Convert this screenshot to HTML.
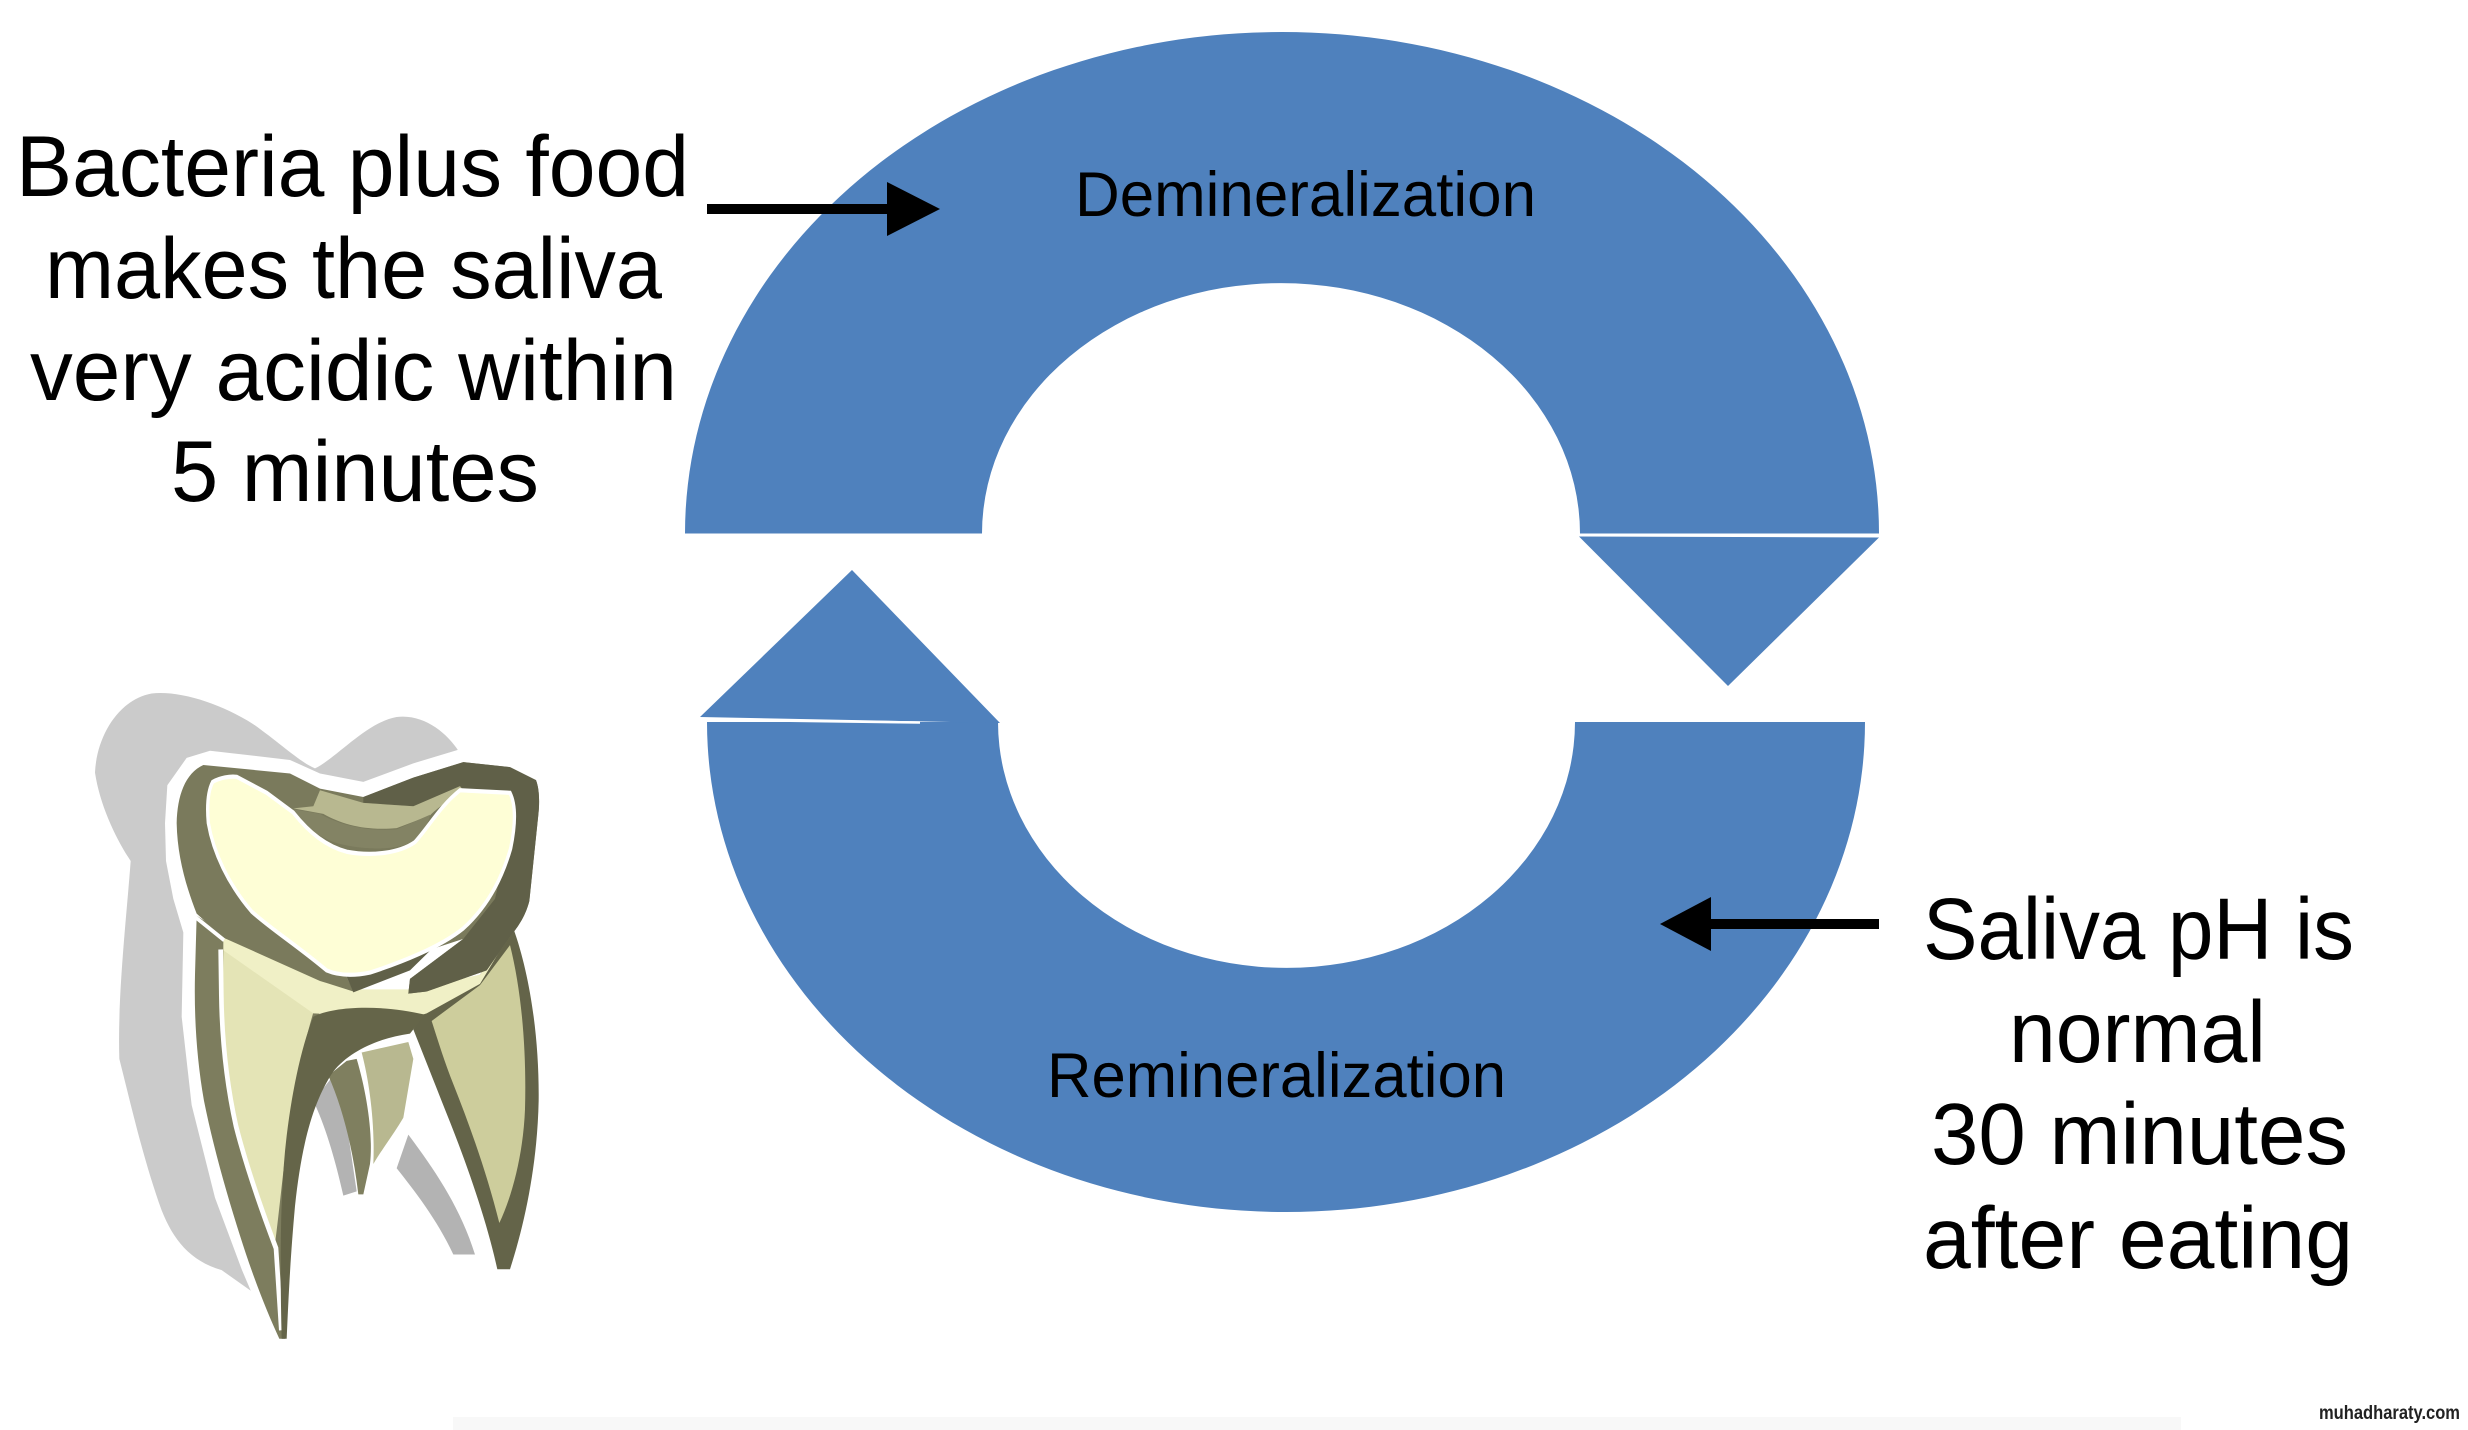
<!DOCTYPE html>
<html><head><meta charset="utf-8">
<style>html,body{margin:0;padding:0;background:#fff;}svg{display:block}</style>
</head>
<body>
<svg width="2468" height="1430" viewBox="0 0 2468 1430" xmlns="http://www.w3.org/2000/svg">
<rect width="2468" height="1430" fill="#fff"/>
<rect x="453" y="1417" width="1728" height="13" fill="#f8f8f8"/>

<!-- cycle ring -->
<path d="M685,533.5 A597,501.5 0 0 1 1879,533.5 L1580,533.5 A299,250.5 0 0 0 982,533.5 Z" fill="#4F81BD"/>
<polygon points="1579,536.5 1879,537.5 1728,686" fill="#4F81BD"/>
<path d="M707,722 A579,490 0 0 0 1865,722 L1575,722 A288.5,246 0 0 1 998,722 Z" fill="#4F81BD"/>
<polygon points="700,717 1000,723 852,570" fill="#4F81BD"/>
<line x1="700" y1="719.5" x2="920" y2="722.5" stroke="#fff" stroke-width="2.5"/>

<!-- arrows -->
<rect x="707" y="204" width="183" height="10" fill="#000"/>
<polygon points="887,182 887,236 940,209" fill="#000"/>
<rect x="1708" y="919" width="171" height="10" fill="#000"/>
<polygon points="1711,897 1711,951 1660,924" fill="#000"/>

<!-- text -->
<g font-family="'Liberation Sans', Arial, sans-serif" fill="#000">
<text x="16" y="196" font-size="86" textLength="673" lengthAdjust="spacingAndGlyphs">Bacteria plus food</text>
<text x="45" y="298" font-size="86" textLength="617" lengthAdjust="spacingAndGlyphs">makes the saliva</text>
<text x="30" y="400" font-size="86" textLength="647" lengthAdjust="spacingAndGlyphs">very acidic within</text>
<text x="171" y="501" font-size="86" textLength="368" lengthAdjust="spacingAndGlyphs">5 minutes</text>

<text x="1923" y="959" font-size="87" textLength="431" lengthAdjust="spacingAndGlyphs">Saliva pH is</text>
<text x="2009" y="1062" font-size="87" textLength="257" lengthAdjust="spacingAndGlyphs">normal</text>
<text x="1931" y="1164" font-size="87" textLength="417" lengthAdjust="spacingAndGlyphs">30 minutes</text>
<text x="1923" y="1268" font-size="87" textLength="430" lengthAdjust="spacingAndGlyphs">after eating</text>

<text x="1075" y="216" font-size="63" textLength="461" lengthAdjust="spacingAndGlyphs">Demineralization</text>
<text x="1047" y="1097" font-size="63" textLength="459" lengthAdjust="spacingAndGlyphs">Remineralization</text>

<text x="2319" y="1419" font-size="19" font-weight="bold" fill="#222" textLength="141" lengthAdjust="spacingAndGlyphs">muhadharaty.com</text>
</g>

<!-- tooth -->
<g transform="translate(80,680) scale(0.33333,0.42092)">
  <!-- light shadow -->
  <path d="M215,32 C300,25 420,55 520,105 C600,150 660,195 705,210 C770,185 860,100 950,88 C1030,80 1100,125 1135,168 L1135,700 L600,1500 L425,1402 C330,1380 280,1330 245,1260 C190,1140 150,1000 118,900 C112,750 140,560 152,430 C110,380 60,300 45,220 C50,130 120,45 215,32 Z" fill="#CBCBCB"/>
  <!-- white silhouette -->
  <path d="M255,340 L262,250 L320,185 L390,168 L630,190 L720,222 L850,242 L1000,198 L1150,162 L1440,162 L1440,1568 L575,1568 L485,1400 L405,1230 L335,1010 L305,800 L310,600 L280,520 L258,430 Z" fill="#fff"/>
  <!-- darker shadow pieces between roots -->
  <path d="M700,1000 L755,945 L790,1000 L830,1215 L790,1225 C760,1120 730,1050 700,1000 Z" fill="#B3B3B3"/>
  <path d="M950,1160 L985,1080 C1060,1160 1140,1250 1185,1365 L1120,1365 C1070,1280 1000,1210 950,1160 Z" fill="#B3B3B3"/>

  <!-- middle root -->
  <path d="M745,940 L800,905 L830,900 C860,980 880,1080 870,1150 L850,1222 L835,1222 C820,1120 790,1020 745,940 Z" fill="#7F7F5F"/>
  <path d="M845,885 L985,860 L1000,900 L970,1040 C940,1080 910,1110 880,1150 C885,1060 870,960 845,885 Z" fill="#B8B890"/>

  <!-- right root -->
  <path d="M1000,830 L1040,780 L1200,700 L1300,590 C1350,700 1378,850 1376,1000 C1372,1150 1335,1290 1290,1400 L1252,1400 C1225,1300 1170,1170 1110,1050 C1070,970 1030,890 1000,830 Z" fill="#646449"/>
  <path d="M1055,810 L1200,725 L1290,630 C1325,740 1340,880 1335,1020 C1330,1120 1300,1220 1258,1290 C1220,1170 1170,1060 1120,960 C1095,910 1075,860 1055,810 Z" fill="#CDCD9C"/>

  <!-- left root -->
  <path d="M350,560 L430,600 L720,790 L700,830 C660,950 640,1100 630,1300 L615,1565 L598,1565 C560,1500 520,1420 480,1320 C440,1220 400,1110 372,1000 C350,900 342,800 345,700 Z" fill="#7D7D5E"/>
  <path d="M430,640 L700,790 C670,870 640,980 620,1100 C605,1200 595,1280 585,1340 C540,1240 500,1150 470,1050 C440,950 428,850 428,750 Z" fill="#E4E4B6"/>
  <path d="M422,640 L424,750 C426,860 440,960 468,1060 C500,1160 545,1260 588,1350 L604,1545" fill="none" stroke="#fff" stroke-width="14"/>

  <!-- neck light area -->
  <path d="M430,612 L720,695 L800,735 L1000,735 L1200,700 L1300,590 L1200,722 L1040,792 L1000,802 L700,792 L430,642 Z" fill="#F0F0C6"/>

  <!-- arch / left root inner strip -->
  <path d="M700,800 C760,775 900,770 1035,795 L990,840 C900,850 810,880 760,930 C700,1000 665,1100 645,1250 C630,1380 625,1480 620,1565 L605,1565 C600,1400 600,1250 615,1120 C630,1000 660,880 700,800 Z" fill="#656549"/>

  <!-- crown base -->
  <path d="M290,340 C292,275 315,222 370,202 L630,222 L720,258 L850,278 L1000,232 L1150,195 L1290,207 L1368,238 C1380,262 1378,300 1375,320 L1348,525 C1335,565 1310,590 1290,610 L1220,690 L1040,740 L985,745 L990,710 L1150,615 L800,705 L820,740 L740,720 L720,715 L430,612 L350,555 C318,490 292,420 290,340 Z" fill="#7A7A5C"/>
  <!-- crown right dark -->
  <path d="M850,278 L1000,232 L1150,195 L1290,207 L1368,238 C1380,262 1378,300 1375,320 L1348,525 C1335,565 1310,590 1290,610 L1220,690 L1040,740 L985,745 L990,710 L1150,615 L1245,520 L1300,330 L1140,262 L1000,300 L850,292 Z" fill="#606048"/>
  <path d="M800,705 L1090,612 L990,690 L820,742 Z" fill="#606048"/>

  <!-- trough -->
  <path d="M720,262 L850,292 L1000,300 L1140,252 L1150,262 C1100,290 1070,305 1050,322 L950,352 C860,358 790,345 730,318 L640,305 L700,300 Z" fill="#B8B890"/>
  <path d="M625,305 L720,318 C780,345 860,360 950,355 L1050,320 C1040,360 1010,385 960,395 C900,405 820,400 760,385 C700,365 660,340 625,305 Z" fill="#838364"/>

  <!-- crown cream top -->
  <path d="M398,242 C420,232 450,228 470,230 L560,268 L640,315 C690,365 740,395 800,408 C880,420 960,410 1005,385 C1050,345 1080,300 1140,262 L1290,268 C1310,300 1305,350 1292,400 C1265,475 1220,540 1150,590 C1080,635 960,672 870,695 C810,705 770,700 740,690 C650,630 570,590 515,550 C445,485 400,410 385,340 C380,295 385,262 398,242 Z" fill="#FEFED6" stroke="#fff" stroke-width="10"/>
  <path d="M330,553 L432,618" stroke="#fff" stroke-width="10"/>
</g>
</svg>
</body></html>
